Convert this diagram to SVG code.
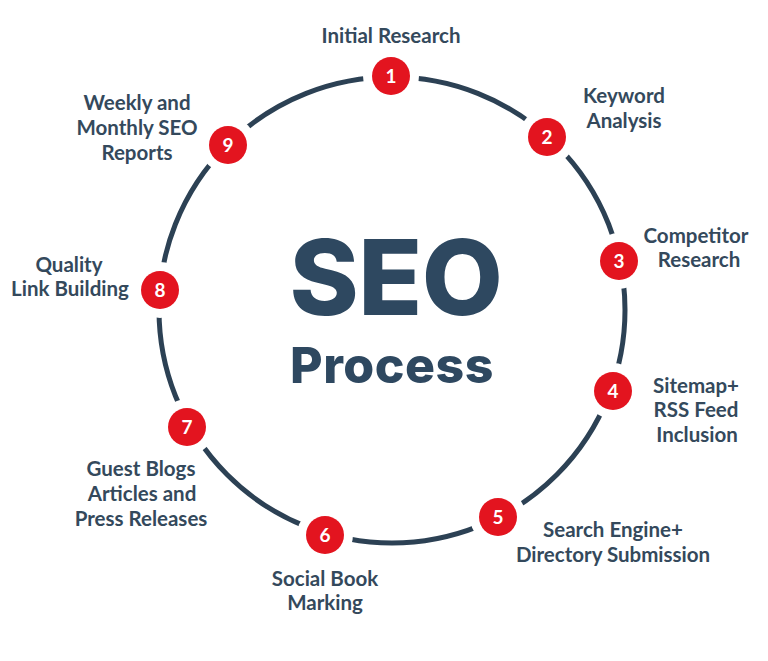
<svg xmlns="http://www.w3.org/2000/svg" width="768" height="661" viewBox="0 0 768 661">
<style>
.lbl{font-family:Lato,"Liberation Sans",sans-serif;font-weight:700;font-size:20.5px;fill:#34495c;text-anchor:middle}
.num{font-family:Lato,"Liberation Sans",sans-serif;font-weight:700;font-size:19px;fill:#ffffff;text-anchor:middle}
.gap{fill:#ffffff}
.dot{fill:#e3141f}
.title{font-family:Inter,"Liberation Sans",sans-serif;font-weight:800;fill:#2e4860;text-anchor:middle}
</style>
<rect width="768" height="661" fill="#ffffff"/>
<g id="connectors">
<circle cx="392" cy="310" r="233" fill="none" stroke="#2c4154" stroke-width="5"/>
</g>
<g id="title">
<text class="title" x="396" y="315" font-size="105" letter-spacing="-0.5">SEO</text>
<text class="title" x="392" y="383" font-size="50" letter-spacing="0.5">Process</text>
</g>
<g id="node1">
<circle class="gap" cx="391" cy="76" r="28"/><circle class="dot" cx="391" cy="76" r="19"/>
<text class="num" x="391" y="83">1</text>
<text class="lbl" x="391" y="43">Initial Research</text>
</g>
<g id="node2">
<circle class="gap" cx="547" cy="137" r="28"/><circle class="dot" cx="547" cy="137" r="19"/>
<text class="num" x="547" y="144">2</text>
<text class="lbl" x="624" y="103">Keyword</text>
<text class="lbl" x="624" y="128">Analysis</text>
</g>
<g id="node3">
<circle class="gap" cx="619" cy="261" r="28"/><circle class="dot" cx="619" cy="261" r="19"/>
<text class="num" x="619" y="268">3</text>
<text class="lbl" x="696" y="243">Competitor</text>
<text class="lbl" x="699" y="267">Research</text>
</g>
<g id="node4">
<circle class="gap" cx="613" cy="391" r="28"/><circle class="dot" cx="613" cy="391" r="19"/>
<text class="num" x="613" y="398">4</text>
<text class="lbl" x="696" y="393">Sitemap+</text>
<text class="lbl" x="696" y="417">RSS Feed</text>
<text class="lbl" x="697" y="442">Inclusion</text>
</g>
<g id="node5">
<circle class="gap" cx="498" cy="517" r="28"/><circle class="dot" cx="498" cy="517" r="19"/>
<text class="num" x="498" y="524">5</text>
<text class="lbl" x="613" y="537">Search Engine+</text>
<text class="lbl" x="613" y="562">Directory Submission</text>
</g>
<g id="node6">
<circle class="gap" cx="325" cy="535" r="28"/><circle class="dot" cx="325" cy="535" r="19"/>
<text class="num" x="325" y="542">6</text>
<text class="lbl" x="325" y="586">Social Book</text>
<text class="lbl" x="325" y="610">Marking</text>
</g>
<g id="node7">
<circle class="gap" cx="187" cy="427" r="28"/><circle class="dot" cx="187" cy="427" r="19"/>
<text class="num" x="187" y="434">7</text>
<text class="lbl" x="141" y="476">Guest Blogs</text>
<text class="lbl" x="142" y="501">Articles and</text>
<text class="lbl" x="141" y="526">Press Releases</text>
</g>
<g id="node8">
<circle class="gap" cx="160" cy="290" r="28"/><circle class="dot" cx="160" cy="290" r="19"/>
<text class="num" x="160" y="297">8</text>
<text class="lbl" x="69" y="272">Quality</text>
<text class="lbl" x="70" y="296">Link Building</text>
</g>
<g id="node9">
<circle class="gap" cx="228" cy="145" r="28"/><circle class="dot" cx="228" cy="145" r="19"/>
<text class="num" x="228" y="152">9</text>
<text class="lbl" x="137" y="110">Weekly and</text>
<text class="lbl" x="137" y="135">Monthly SEO</text>
<text class="lbl" x="137" y="160">Reports</text>
</g>
</svg>
